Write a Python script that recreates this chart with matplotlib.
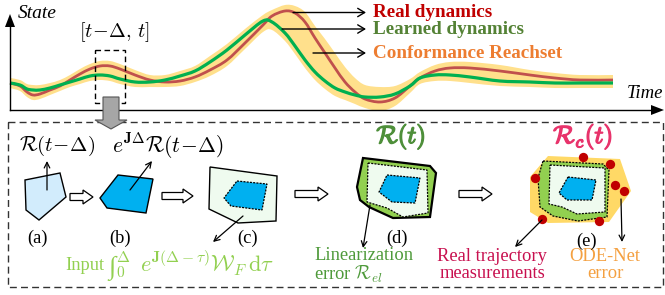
import numpy as np
import matplotlib
matplotlib.use("Agg")
import matplotlib.pyplot as plt
from matplotlib.patches import Polygon, Rectangle, PathPatch
from matplotlib.path import Path
import matplotlib.patheffects as pe

plt.rcParams['mathtext.fontset'] = 'cm'
SERIF = 'Liberation Serif'

# ---------------- data: trajectories (time = px position, value = px row, time axis at row 110) -------------
time = [10, 20, 27, 33, 40, 50, 60, 70, 80, 90, 100, 110, 120, 135, 150, 165, 180, 195, 210, 227,
        245, 263, 272, 285, 295, 305, 315, 325, 335, 345, 355, 365, 380, 395, 410, 420, 435, 450,
        470, 500, 530, 555, 580, 613]
real_y = [83, 86, 92, 95, 94, 90, 86, 80, 74, 69, 66, 66, 69, 75, 80, 82, 81, 77, 70, 60,
          43, 25, 16, 11, 13, 22, 38, 53, 68, 82, 92, 99, 102, 98, 86, 78, 71, 68,
          68, 71, 75, 78, 80, 80]
learned_y = [83, 85, 89, 90, 90, 88, 85, 82, 79, 76, 75, 76, 79, 82, 82, 80, 76, 71, 62, 50,
             35, 21, 22, 33, 46, 60, 72, 81, 88, 92, 95, 97, 97, 94, 86, 78, 75, 75,
             77, 81, 82, 83, 83, 83]
reach_pad_top = [5, 5, 5, 5, 5, 5, 5, 5, 5, 5, 5, 5, 5, 5, 5, 5, 5, 5, 6, 6,
                 6, 6, 6, 6, 7, 10, 12, 14, 15, 15, 14, 12, 10, 8, 7, 6, 6, 6,
                 6, 6, 5, 5, 5, 5]
reach_pad_bot = [5, 5, 5, 5, 5, 5, 5, 5, 5, 5, 5, 5, 5, 5, 5, 5, 5, 5, 6, 6,
                 6, 7, 8, 8, 8, 8, 8, 8, 8, 8, 9, 9, 9, 8, 7, 6, 6, 6,
                 6, 5, 5, 5, 5, 5]

legend_labels = ['Real dynamics', 'Learned dynamics', 'Conformance Reachset']
legend_colors = ['#C00000', '#548235', '#ED7D31']
step_labels = ['(a)', '(b)', '(c)', '(d)', '(e)']

AXY = 110  # pixel row of the time axis
FS = 13.3  # body text size


def catmull(xs, ys):
    """Bezier control sequence (for matplotlib Path) passing through the given points."""
    p = np.column_stack([xs, ys]).astype(float)
    verts = [tuple(p[0])]
    codes = [Path.MOVETO]
    n = len(p)
    for i in range(n - 1):
        p0 = p[i - 1] if i > 0 else p[i]
        p1, p2 = p[i], p[i + 1]
        p3 = p[i + 2] if i + 2 < n else p[i + 1]
        c1 = p1 + (p2 - p0) / 6.0
        c2 = p2 - (p3 - p1) / 6.0
        verts += [tuple(c1), tuple(c2), tuple(p2)]
        codes += [Path.CURVE4] * 3
    return verts, codes


fig = plt.figure(figsize=(6.65, 2.95), dpi=100)

# ---------------- top panel with curves ----------------
axt = fig.add_axes([0, (295 - AXY) / 295, 1, AXY / 295])
axt.set_xlim(0, 665)
axt.set_ylim(0, AXY)
axt.axis('off')
t_arr = np.asarray(time, float)
real_s = AXY - np.asarray(real_y, float)
learn_s = AXY - np.asarray(learned_y, float)
upper = np.maximum(real_s, learn_s) + np.asarray(reach_pad_top)
lower = np.minimum(real_s, learn_s) - np.asarray(reach_pad_bot)

vu, cu = catmull(t_arr, upper)
vl, cl = catmull(t_arr[::-1], lower[::-1])
band_verts = vu + vl + [vu[0]]
band_codes = cu + [Path.LINETO] + cl[1:] + [Path.CLOSEPOLY]
axt.add_patch(PathPatch(Path(band_verts, band_codes), fc='#FFE08C', ec='none', lw=0))
for vals, col, lw in [(real_s, '#C0504D', 2.0), (learn_s, '#00B050', 2.3)]:
    v, c = catmull(t_arr, vals)
    axt.add_patch(PathPatch(Path(v, c), fc='none', ec=col, lw=lw, capstyle='butt'))

# ---------------- overlay in pixel coordinates ----------------
ax = fig.add_axes([0, 0, 1, 1], facecolor='none')
ax.set_xlim(0, 665)
ax.set_ylim(295, 0)
ax.axis('off')

# axes arrows
ax.plot([10, 10], [AXY, 26], color='black', lw=1.0)
ax.add_patch(Polygon([(5, 27), (15, 27), (10, 14)], closed=True, fc='black', ec='none'))
ax.plot([10, 652], [AXY, AXY], color='black', lw=1.0)
ax.add_patch(Polygon([(651, AXY - 5), (651, AXY + 5), (664, AXY)], closed=True, fc='black', ec='none'))
ax.text(18, 13, 'State', family=SERIF, style='italic', fontsize=14, va='center', ha='left')
ax.text(663, 93, 'Time', family=SERIF, style='italic', fontsize=13.5, va='center', ha='right')

# window box and label
ax.add_patch(Rectangle((95, 50), 30, 53, fill=False, ec='black', lw=1.0, ls=(0, (4, 2.5))))
ax.text(114, 32, r'$[t\!-\!\Delta,\,t]$', fontsize=14.5, ha='center', va='center')

# legend pointers
for (x0, y0, lab, col) in [(293, 12.5, legend_labels[0], legend_colors[0]),
                           (282, 29, legend_labels[1], legend_colors[1]),
                           (313, 53, legend_labels[2], legend_colors[2])]:
    ax.annotate('', xy=(366, y0), xytext=(x0, y0),
                arrowprops=dict(arrowstyle='->,head_length=0.5,head_width=0.3', lw=1.0, color='black',
                                shrinkA=0, shrinkB=0))
    ax.text(373, y0, lab, family=SERIF, weight='bold', fontsize=13.8, color=col, va='center', ha='left')

# big dashed box
ax.add_patch(Rectangle((8, 122), 655, 165, fill=False, ec='#333333', lw=1.0, ls=(0, (5, 3))))

# gray block arrow
ax.add_patch(Polygon([(103, 97), (119, 97), (119, 120), (127, 120), (111, 129), (95, 120), (103, 120)],
                     closed=True, fc='#A6A6A6', ec='#555555', lw=0.8, zorder=5))


def hollow_arrow(x0, x1, yc):
    xh = x1 - 10
    pts = [(x0, yc - 3.5), (xh, yc - 3.5), (xh, yc - 7), (x1, yc), (xh, yc + 7), (xh, yc + 3.5), (x0, yc + 3.5)]
    ax.add_patch(Polygon(pts, closed=True, fc='white', ec='black', lw=0.9))


def pointer(xy_from, xy_to):
    ax.annotate('', xy=xy_to, xytext=xy_from,
                arrowprops=dict(arrowstyle='->,head_length=0.4,head_width=0.2', lw=0.9, color='black',
                                shrinkA=0, shrinkB=0), zorder=6)


DOT = (0, (1.6, 1.0))
LIGHT = '#D2ECFC'
BLUE = '#00B0F0'
PALE = '#EFFBEF'
GREEN = '#92D050'

# (a)
ax.add_patch(Polygon([(25, 180), (60, 173), (66, 197), (39, 220), (26, 210)], closed=True,
                     fc=LIGHT, ec='black', lw=1.0))
pointer((47, 190), (47, 161))
ax.text(57, 146, r'$\mathcal{R}(t\!-\!\Delta)$', fontsize=15, ha='center', va='center')
hollow_arrow(70, 93, 197)

# (b)
ax.add_patch(Polygon([(118, 175), (153, 179), (146, 213), (107, 208), (100, 198)], closed=True,
                     fc=BLUE, ec='black', lw=1.0))
pointer((130, 190), (152, 161))
ax.text(168, 146, r'$e^{\mathbf{J}\Delta}\mathcal{R}(t\!-\!\Delta)$', fontsize=15.5, ha='center', va='center')
hollow_arrow(162, 193, 196)

# (c)
ax.add_patch(Polygon([(210, 167), (277, 176), (276, 221), (238, 223), (209, 209)], closed=True,
                     fc=PALE, ec='black', lw=1.0))
ax.add_patch(Polygon([(237, 181), (267, 184), (262, 210), (231, 206), (224, 198)], closed=True,
                     fc=BLUE, ec='black', lw=0.9, ls=DOT))
pointer((243, 216), (213, 242))
ax.text(65, 266, 'Input', family=SERIF, fontsize=FS, color=GREEN, ha='left', va='center')
ax.text(108, 268, '∫', family=[SERIF, 'DejaVu Serif'], fontsize=19, color=GREEN,
        ha='left', va='center')
ax.text(116, 265, r'${}_0^{\Delta}\;\, e^{\mathbf{J}(\Delta-\tau)}\mathcal{W}_F\,\mathrm{d}\tau$',
        fontsize=16, color=GREEN, ha='left', va='center')
hollow_arrow(295, 328, 194)

# (d)
ax.add_patch(Polygon([(363, 158), (430, 166), (436, 173), (430, 217), (393, 218), (369, 207),
                      (360, 200), (357, 187)], closed=True, fc=GREEN, ec='black', lw=1.6))
ax.add_patch(Polygon([(368, 163), (427, 170), (428, 213), (403, 217), (387, 208), (367, 202)],
                     closed=True, fc=PALE, ec='black', lw=0.9, ls=DOT))
ax.add_patch(Polygon([(387, 175), (420, 178), (415, 203), (392, 202), (379, 192)], closed=True,
                     fc=BLUE, ec='black', lw=0.9, ls=DOT))
pointer((370, 205), (363, 248))
t = ax.text(401, 137, r'$\mathcal{R}(t)$', fontsize=18, color='#4E8F3A', ha='center', va='center')
t.set_path_effects([pe.withStroke(linewidth=1.0, foreground='#4E8F3A')])
ax.text(314, 266, 'Linearization\n' + r'error $\mathcal{R}_{el}$', family=SERIF, fontsize=FS,
        color='#4E9A3A', ha='left', va='center', multialignment='left', linespacing=0.95)
hollow_arrow(459, 492, 194)

# (e)
ax.add_patch(Polygon([(548, 156), (620, 159), (631, 191), (609, 222), (548, 223), (530, 212), (530, 177)],
                     closed=True, fc='#FFD966', ec='none'))
ax.add_patch(Polygon([(543, 161), (603, 164), (609, 170), (607, 217), (578, 221), (553, 216),
                      (540, 207), (538, 178)], closed=True, fc=GREEN, ec='black', lw=0.9, ls=DOT))
ax.add_patch(Polygon([(550, 165), (605, 168), (605, 212), (577, 214), (562, 207), (549, 204)],
                     closed=True, fc=PALE, ec='black', lw=0.9, ls=DOT))
ax.add_patch(Polygon([(568, 177), (596, 180), (592, 200), (567, 200), (559, 193)], closed=True,
                     fc=BLUE, ec='black', lw=0.9, ls=DOT))
dots_x = [583, 610, 535, 615, 624, 542, 599]
dots_y = [157, 164, 178, 185, 191, 219, 221]
ax.scatter(dots_x, dots_y, s=45, color='#C00000', zorder=6, lw=0)
pointer((542, 220), (515, 247))
pointer((621, 199), (622, 242))
t = ax.text(583, 137, r'$\mathcal{R}_c(t)$', fontsize=18, color='#E8336B', ha='center', va='center')
t.set_path_effects([pe.withStroke(linewidth=1.0, foreground='#E8336B')])
ax.text(492, 265, 'Real trajectory\nmeasurements', family=SERIF, fontsize=FS, color='#C8104F',
        ha='center', va='center', multialignment='center', linespacing=0.95)
ax.text(605, 265, 'ODE-Net\nerror', family=SERIF, fontsize=FS, color='#F4A040',
        ha='center', va='center', multialignment='center', linespacing=0.95)

# step labels
for lab, x, y in zip(step_labels, [37, 120, 248, 397, 587], [238, 238, 238, 238, 241]):
    ax.text(x, y, lab, family=SERIF, fontsize=FS, ha='center', va='center')

fig.savefig('out.png', dpi=100)
